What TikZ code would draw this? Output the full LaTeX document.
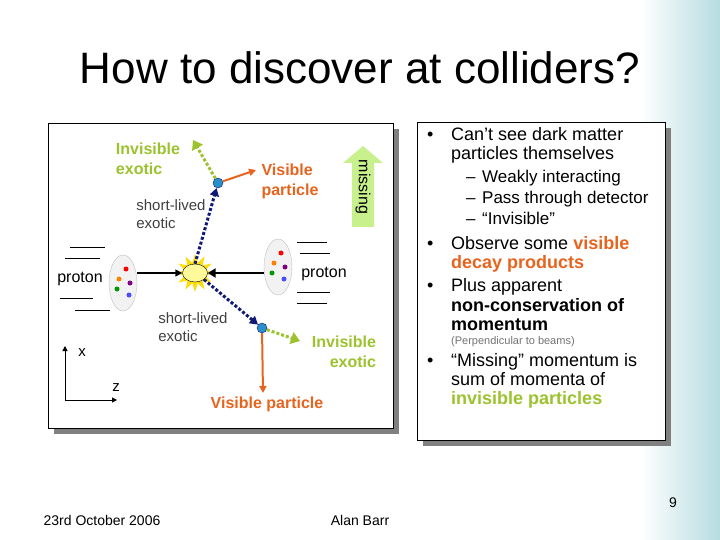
\documentclass[tikz,border=0pt]{standalone}
\usepackage{fontspec}
\setmainfont{Liberation Sans}
\usetikzlibrary{arrows.meta,shapes.geometric,shapes.misc,calc}
\definecolor{orng}{HTML}{E8641E}
\definecolor{grn}{HTML}{9CC22E}
\definecolor{lgrn}{HTML}{C8F08C}
\definecolor{dblue}{HTML}{0F1A78}
\definecolor{vblue}{HTML}{2A8FC8}
\definecolor{teal}{HTML}{B6DCE0}
\begin{document}
\begin{tikzpicture}[x=1pt,y=-1pt,
  lbl/.style={font=\fontsize{16}{20}\selectfont\bfseries,align=left},
  sl/.style={font=\fontsize{15}{18}\selectfont,text=black!75,align=left},
  vert/.style={circle,draw=dblue,fill=vblue,inner sep=0pt,minimum size=10pt},
  dotb/.style={dblue,line width=3pt,dash pattern=on 3pt off 2pt,-{Triangle[length=8pt,width=9pt]}},
  dotg/.style={grn,line width=3pt,dash pattern=on 3pt off 2pt,-{Triangle[length=9pt,width=12pt]}},
  orar/.style={orng,line width=2pt,-{Triangle[length=7pt,width=7pt]}},
  body/.style={font=\fontsize{18}{19.5}\selectfont,anchor=base west,inner sep=0pt},
  sub/.style={font=\fontsize{17}{19}\selectfont,anchor=base west,inner sep=0pt},
  box/.style={draw=black,fill=white,line width=0.8pt},
  shd/.style={fill=black!50},
  speed/.style={black,line width=0.8pt},
  prot/.style={ellipse,draw=black!25,fill=black!5,minimum width=28pt,minimum height=56pt,inner sep=0pt}]
\useasboundingbox (0,0) rectangle (720,540);
\fill[white] (0,0) rectangle (720,540);
\shade[left color=white,right color=teal] (640,0) rectangle (720,540);
% title
\node (title) at (360,68) {\fontsize{44}{48}\selectfont How to discover at colliders?};
% left box
\fill[shd] (54,129) rectangle (399,434);
\draw[box] (48,123) rectangle (393,428);
% right box
\fill[shd] (423,128) rectangle (671,446);
\draw[box] (417,122) rectangle (665,440);
% missing arrow
\fill[lgrn] (352,227) -- (352,163) -- (343,163) -- (363,146) -- (383,163) -- (374,163) -- (374,227) -- cycle;
\node[rotate=-90,font=\fontsize{16}{18}\selectfont] (miss) at (363,187) {missing};
% protons
\node[prot] (pl) at (123,283) {};
\node[prot] (pr) at (278,267) {};
\foreach \c/\dx/\dy in {red/3/-14,green!60!black/-6/6,blue!70/6/12,orange/-4/-4,violet/7/0}{
  \fill[\c] ($(pl)+(\dx,\dy)$) circle (2.5pt);
  \fill[\c] ($(pr)+(\dx,\dy)$) circle (2.5pt);}
\draw[speed] (70,247) -- (105,247) (65,258) -- (100,258) (60,298) -- (93,298) (75,310) -- (110,310);
\draw[speed] (297,242) -- (327,242) (300,253) -- (330,253) (297,292) -- (330,292) (297,303) -- (327,303);
\node[font=\fontsize{16}{18}\selectfont] (plab) at (80,279) {proton};
\node[font=\fontsize{16}{18}\selectfont] (prlab) at (324,274) {proton};
% collision
\node[star,star points=12,star point ratio=1.8,fill=yellow!80!orange,minimum size=38pt,inner sep=0pt] (burst) at (195,273) {};
\node[ellipse,draw=black,fill=yellow!40,minimum width=25pt,minimum height=18pt,inner sep=0pt] (coll) at (195,273) {};
\draw[black,line width=1.5pt,-{Triangle[length=7pt,width=7pt]}] (pl.east |- coll) -- (coll.west);
\draw[black,line width=2.5pt,-{Triangle[length=8pt,width=9pt]}] (pr.west |- coll) -- (coll.east);
% vertices
\node[vert] (v1) at (218,183) {};
\node[vert] (v2) at (262,328) {};
\draw[dotb] (coll.north) -- (v1);
\draw[dotb] (coll.south east) -- (v2);
\coordinate (i1) at (193,140);
\coordinate (o1) at (256,170);
\coordinate (i2) at (300,341);
\coordinate (o2) at (263,393);
\draw[dotg] (v1) -- (i1);
\draw[orar] (v1) -- (o1);
\draw[dotg] (v2) -- (i2);
\draw[orar] (v2) -- (o2);
% labels
\node[lbl,text=grn] (li1) at (148,159) {Invisible\\exotic};
\node[lbl,text=orng] (lo1) at (290,181) {Visible\\particle};
\node[sl] (s1) at (171,214) {short-lived\\exotic};
\node[sl] (s2) at (193,327) {short-lived\\exotic};
\node[lbl,text=grn,align=right] (li2) at (344,352) {Invisible\\exotic};
\node[lbl,text=orng] (lo2) at (267,404) {Visible particle};
% axes
\coordinate (ax0) at (65,400);
\coordinate (axx) at (65,346);
\coordinate (axz) at (117,400);
\draw[black,line width=1pt,-{Triangle[length=5pt,width=5pt]}] (ax0) -- (axx);
\draw[black,line width=1pt,-{Triangle[length=5pt,width=5pt]}] (ax0) -- (axz);
\node[font=\fontsize{15}{17}\selectfont] (xl) at (82,353) {x};
\node[font=\fontsize{15}{17}\selectfont] (zl) at (116,388) {z};
% right text
\node[body] (b1) at (427,141) {•};
\node[body] (t1a) at (451,141) {Can’t see dark matter};
\node[body] (t1b) at (451,160) {particles themselves};
\node[sub] (d1) at (466,183) {–};
\node[sub] (t2a) at (482,183) {Weakly interacting};
\node[sub] (d2) at (466,204) {–};
\node[sub] (t2b) at (482,204) {Pass through detector};
\node[sub] (d3) at (466,225) {–};
\node[sub] (t2c) at (482,225) {“Invisible”};
\node[body] (b2) at (427,249) {•};
\node[body] (t3a) at (451,249) {Observe some \textcolor{orng}{\textbf{visible}}};
\node[body] (t3b) at (451,268) {\textcolor{orng}{\textbf{decay products}}};
\node[body] (b3) at (427,291) {•};
\node[body] (t4a) at (451,291) {Plus apparent};
\node[body] (t4b) at (451,311) {\textbf{non-conservation of}};
\node[body] (t4c) at (451,330) {\textbf{momentum}};
\node[body,font=\fontsize{11}{12}\selectfont,text=black!55] (t5) at (451,344) {(Perpendicular to beams)};
\node[body] (b4) at (427,366) {•};
\node[body] (t6a) at (451,366) {“Missing” momentum is};
\node[body] (t6b) at (451,385) {sum of momenta of};
\node[body] (t6c) at (451,404) {\textcolor{grn}{\textbf{invisible particles}}};
% footer
\node[font=\fontsize{14}{16}\selectfont] (f1) at (102,520) {23rd October 2006};
\node[font=\fontsize{14}{16}\selectfont] (f2) at (360,520) {Alan Barr};
\node[font=\fontsize{14}{16}\selectfont] (f3) at (673,503) {9};
\end{tikzpicture}
\end{document}
